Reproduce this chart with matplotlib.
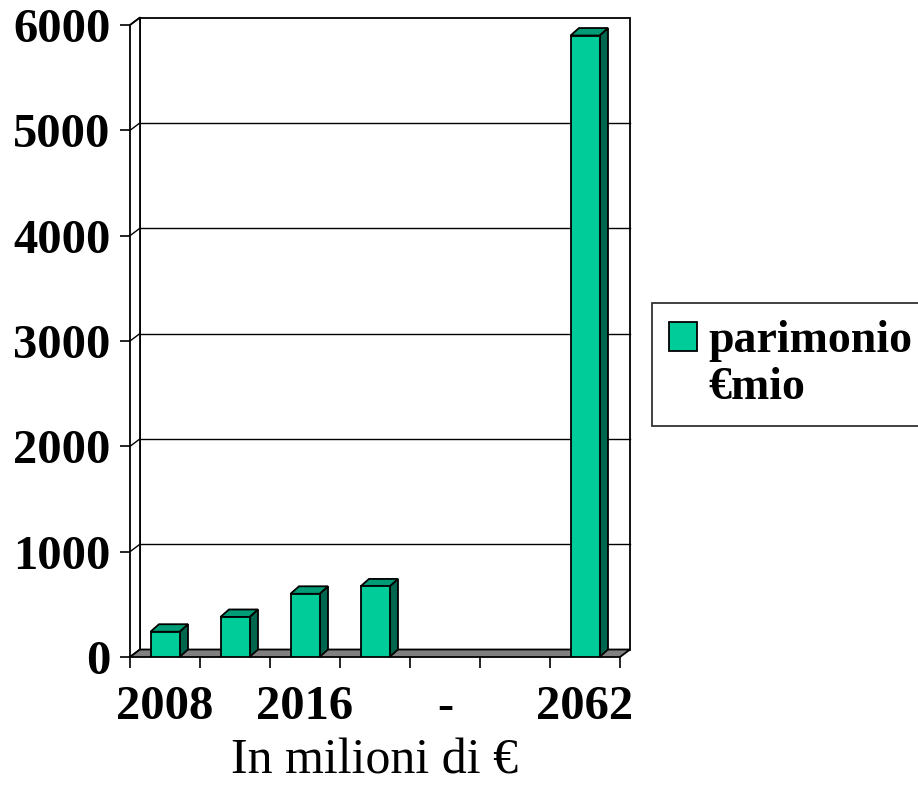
import numpy as np
import matplotlib
matplotlib.use("Agg")
import matplotlib.pyplot as plt
from matplotlib.patches import Polygon, Rectangle

# data
tick_labels = ["2008", "", "2016", "", "-", "", "2062"]
values = [240, 380, 600, 670, np.nan, np.nan, 5900]
y_ticks = [0, 1000, 2000, 3000, 4000, 5000, 6000]
series_lines = ["parimonio", "€mio"]
x_title = "In milioni di €"

plt.rcParams['font.family'] = ['Liberation Serif', 'DejaVu Serif']

W, H = 918, 793
fig = plt.figure(figsize=(W / 100, H / 100), dpi=100)
ax = fig.add_axes([130 / W, 1 - 657 / H, 490 / W, 632 / H])
n = len(tick_labels)
ymax = y_ticks[-1]
ax.set_xlim(0, n)
ax.set_ylim(0, ymax)

# 3d depth offsets, converted from pixels to data units
px_x = 490 / n
px_y = 632 / ymax
wdx, wdy = 10 / px_x, 7.5 / px_y
bdx, bdy = 8.5 / px_x, 7.5 / px_y

front = '#00CC99'
top = '#009C76'
side = '#00664D'

# back wall, left wall, floor
ax.add_patch(Rectangle((wdx, wdy), n, ymax, facecolor='white', edgecolor='black',
                       lw=1.3, clip_on=False, zorder=0))
ax.add_patch(Polygon([(0, 0), (wdx, wdy), (wdx, ymax + wdy), (0, ymax)], closed=True,
                     facecolor='white', edgecolor='black', lw=1.3, clip_on=False, zorder=0.5))
for v in y_ticks[1:-1]:
    ax.plot([wdx, n + wdx], [v + wdy, v + wdy], color='black', lw=1, zorder=0.6, clip_on=False)
for v in y_ticks[1:]:
    ax.plot([0, wdx], [v, v + wdy], color='black', lw=1, zorder=0.6, clip_on=False)
ax.add_patch(Polygon([(0, 0), (n, 0), (n + wdx, wdy), (wdx, wdy)], closed=True,
                     facecolor='#808080', edgecolor='black', lw=1.3, clip_on=False, zorder=1))

# bars
xc = np.arange(n) + 0.5
bw = 29 / px_x
for x, v in zip(xc, values):
    if np.isnan(v):
        continue
    x0, x1 = x - bw / 2, x + bw / 2
    ax.add_patch(Polygon([(x1, 0), (x1 + bdx, bdy), (x1 + bdx, v + bdy), (x1, v)], closed=True,
                         facecolor=side, edgecolor='black', lw=1.3, clip_on=False, zorder=2))
    ax.add_patch(Polygon([(x0, v), (x1, v), (x1 + bdx, v + bdy), (x0 + bdx, v + bdy)], closed=True,
                         facecolor=top, edgecolor='black', lw=1.3, clip_on=False, zorder=2))
bars = ax.bar(xc, values, width=bw, color=front, edgecolor='black', lw=1.3, zorder=3)

for s in ax.spines.values():
    s.set_visible(False)
ax.set_yticks(y_ticks)
ax.set_yticklabels([str(v) for v in y_ticks], fontsize=35, fontweight='bold')
ax.tick_params(axis='y', direction='out', length=7, width=1.2, pad=7)
ax.set_xticks(np.arange(n + 1))
ax.set_xticklabels([])
ax.set_xticks(xc, minor=True)
ax.set_xticklabels(tick_labels, minor=True, fontsize=35, fontweight='bold')
ax.tick_params(axis='x', which='major', direction='out', length=8, width=1.2)
ax.tick_params(axis='x', which='minor', length=0, pad=20)
ax.set_xlabel(x_title, fontsize=36, labelpad=7)

# legend: square beside the first line, second line without a key
blank = Rectangle((0, 0), 1, 1, visible=False)
leg = ax.legend([bars, blank], series_lines, loc='upper left',
                bbox_to_anchor=(652 / W, 1 - 303 / H), bbox_transform=fig.transFigure,
                fancybox=False, frameon=True, prop={'size': 33, 'weight': 'bold'},
                borderpad=0.38, handlelength=0.6, handleheight=0.6, handletextpad=0.25,
                labelspacing=0.1, borderaxespad=0)
leg.get_frame().set_edgecolor('black')
leg.get_frame().set_linewidth(1.3)

fig.savefig('out.png', dpi=100)
